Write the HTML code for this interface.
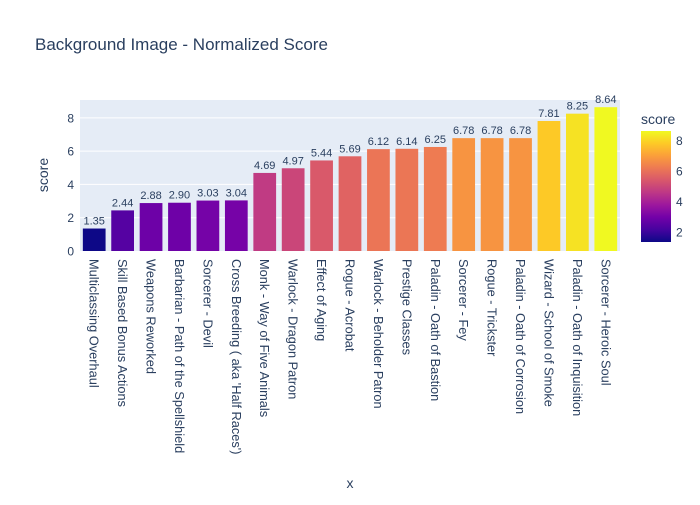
<!DOCTYPE html>
<html><head><meta charset="utf-8"><style>
body{margin:0;background:#fff;font-family:"Liberation Sans",sans-serif}
</style></head><body>
<svg id="chart" width="700" height="500" xmlns="http://www.w3.org/2000/svg" font-family="Liberation Sans, sans-serif" fill="#2a3f5f">
<defs><linearGradient id="plasma" x1="0" y1="1" x2="0" y2="0">
<stop offset="0" stop-color="#0d0887"/><stop offset="0.111" stop-color="#46039f"/><stop offset="0.222" stop-color="#7201a8"/><stop offset="0.333" stop-color="#9c179e"/><stop offset="0.444" stop-color="#bd3786"/><stop offset="0.556" stop-color="#d8576b"/><stop offset="0.667" stop-color="#ed7953"/><stop offset="0.778" stop-color="#fb9f3a"/><stop offset="0.889" stop-color="#fdca26"/><stop offset="1" stop-color="#f0f921"/></linearGradient></defs>
<text x="35" y="50" font-size="17">Background Image - Normalized Score</text>
<rect x="80" y="100" width="540" height="151" fill="#e5ecf6"/>
<g id="grid"></g><g id="bars"></g><g id="xlabels"></g>
<text transform="translate(48,175) rotate(-90)" text-anchor="middle" font-size="14">score</text>
<text x="350" y="488" text-anchor="middle" font-size="14">x</text>
<text x="641" y="124" font-size="14">score</text>
<rect x="641" y="131" width="30" height="111" fill="url(#plasma)"/>
<g id="cbticks"></g>
</svg>
<script>
const categories=["Multiclassing Overhaul","Skill Based Bonus Actions","Weapons Reworked","Barbarian - Path of the Spellshield","Sorcerer - Devil","Cross Breeding ( aka 'Half Races')","Monk - Way of Five Animals","Warlock - Dragon Patron","Effect of Aging","Rogue - Acrobat","Warlock - Beholder Patron","Prestige Classes","Paladin - Oath of Bastion","Sorcerer - Fey","Rogue - Trickster","Paladin - Oath of Corrosion","Wizard - School of Smoke","Paladin - Oath of Inquisition","Sorcerer - Heroic Soul"];
const scores=[1.35,2.44,2.88,2.90,3.03,3.04,4.69,4.97,5.44,5.69,6.12,6.14,6.25,6.78,6.78,6.78,7.81,8.25,8.64];
const yTicks=[0,2,4,6,8];
const cbTicks=[2,4,6,8];
const NS="http://www.w3.org/2000/svg";
const L=80,R=620,T=100,B=251;
const ymax=Math.max(...scores)*1.05;
const y=v=>B-(v/ymax)*(B-T);
const band=(R-L)/categories.length;
const x=i=>L+band*(i+0.5);
const cmin=Math.min(...scores),cmax=Math.max(...scores);
const stops=["#0d0887","#46039f","#7201a8","#9c179e","#bd3786","#d8576b","#ed7953","#fb9f3a","#fdca26","#f0f921"];
function hex(h){return [1,3,5].map(i=>parseInt(h.substr(i,2),16));}
function color(v){let t=(v-cmin)/(cmax-cmin)*(stops.length-1);let i=Math.min(Math.floor(t),stops.length-2);let f=t-i;let a=hex(stops[i]),b=hex(stops[i+1]);return "rgb("+a.map((c,k)=>Math.round(c+(b[k]-c)*f)).join(",")+")";}
function el(tag,attrs,parent,text){const e=document.createElementNS(NS,tag);for(const k in attrs)e.setAttribute(k,attrs[k]);if(text!==undefined)e.textContent=text;document.getElementById(parent).appendChild(e);return e;}
yTicks.forEach(t=>{
 if(t>0){const g=el("line",{x1:L,x2:R,y1:y(t),y2:y(t),stroke:"#fff","stroke-width":1},"grid");
 
 }
 const l=el("text",{x:L-6,y:y(t)+4.5,"text-anchor":"end","font-size":12},"grid",String(t));
 
 
});
const bw=band*0.8;
categories.forEach((c,i)=>{
 const r=el("rect",{x:x(i)-bw/2,y:y(scores[i]),width:bw,height:B-y(scores[i]),fill:color(scores[i])},"bars");
 
 
 const v=el("text",{x:x(i),y:y(scores[i])-4,"text-anchor":"middle","font-size":11},"bars",scores[i].toFixed(2));
 
 
 const lb=el("text",{transform:"translate("+(x(i)-4.5)+","+(B+8)+") rotate(90)","font-size":12.8},"xlabels",c);
 
 
});
const cy=v=>242-(v-cmin)/(cmax-cmin)*111;
cbTicks.forEach(t=>{
 const l=el("text",{x:676,y:cy(t)+4.5,"font-size":12},"cbticks",String(t));
 
 
});
</script>
</body></html>
